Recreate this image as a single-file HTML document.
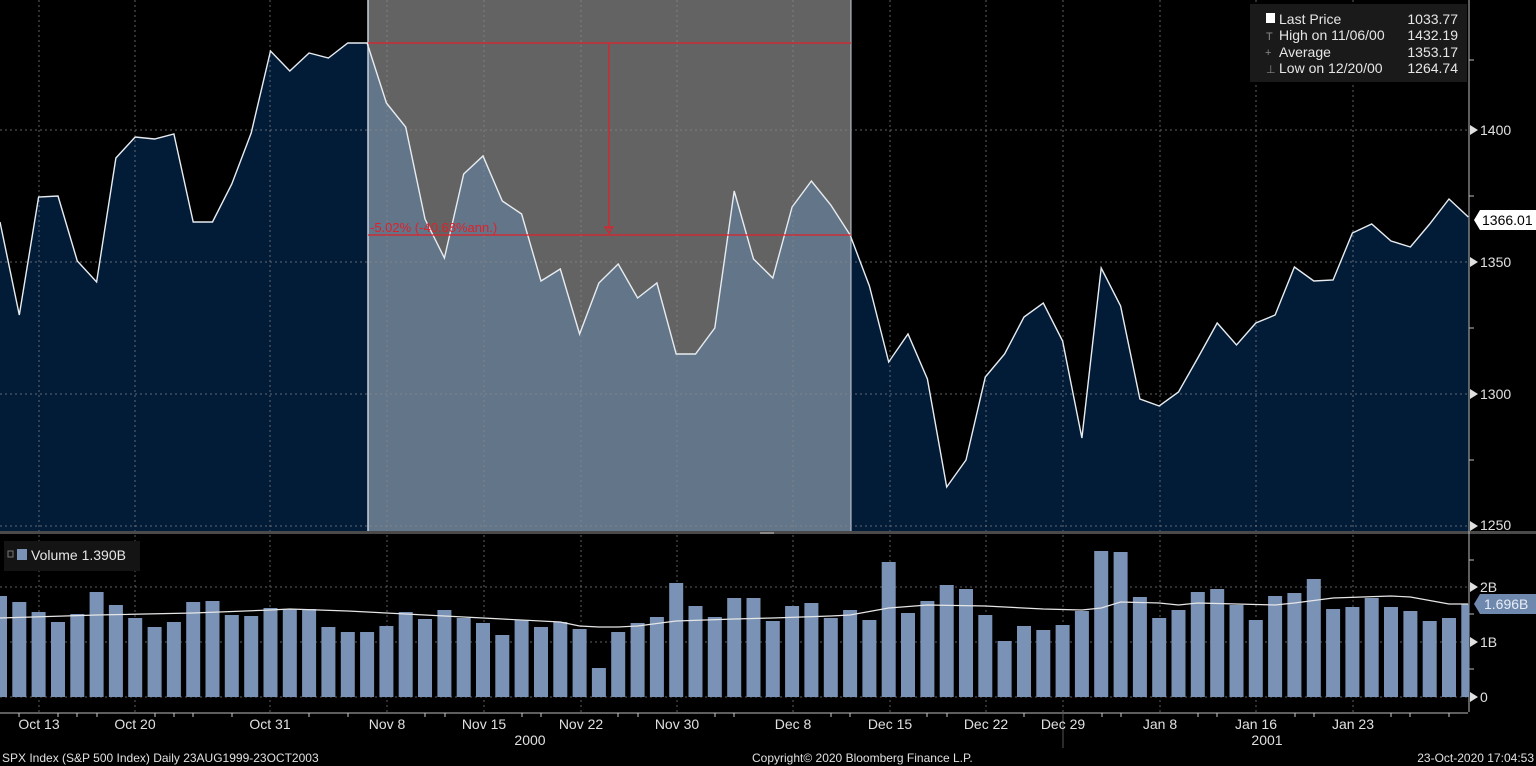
<!DOCTYPE html>
<html><head><meta charset="utf-8"><style>
html,body{margin:0;padding:0;background:#000;}
svg{display:block;}
text{font-family:"Liberation Sans Narrow","Liberation Sans",sans-serif;}
</style></head><body>
<svg width="1536" height="766" viewBox="0 0 1536 766" xmlns="http://www.w3.org/2000/svg">
<defs>
<clipPath id="sel"><rect x="368" y="0" width="483" height="531"/></clipPath>
</defs>
<rect width="1536" height="766" fill="#000"/>
<!-- selection gray -->
<rect x="368" y="0" width="483" height="531" fill="#636363"/>
<!-- area -->
<polygon id="ar" fill="#021b37" points="0,531 0,222 19.3,315 38.6,197 58,196 77.3,261 96.6,282 115.9,158 135.2,137 154.6,139 173.9,134 193.2,222 212.5,222 231.8,184 251.2,133 270.5,51 289.8,71 309.1,53 328.4,58 347.8,43 367.1,43 386.4,103 405.7,127 425,219 444.4,258 463.7,174 483,156 502.3,201 521.6,214 541,281 560.3,269 579.6,334 598.9,283 618.2,264 637.6,298 656.9,283 676.2,354 695.5,354 714.8,328 734.2,191 753.5,259 772.8,278 792.1,207 811.4,181 830.8,205 850.1,235 869.4,286 888.7,362 908,334 927.4,379 946.7,487 966,460 985.3,377 1004.6,354 1024,317 1043.3,303 1062.6,341 1081.9,438 1101.2,268 1120.6,306 1139.9,399 1159.2,406 1178.5,392 1197.8,358 1217.2,323 1236.5,345 1255.8,323 1275.1,315 1294.4,267 1313.8,281 1333.1,280 1352.4,233 1371.7,224 1391,241 1410.4,247 1429.7,224 1449,199 1468.3,217 1468.3,531"/>
<g clip-path="url(#sel)"><use href="#ar" fill="#637589" style="fill:#637589"/></g>
<polygon clip-path="url(#sel)" fill="#637589" points="0,531 0,222 19.3,315 38.6,197 58,196 77.3,261 96.6,282 115.9,158 135.2,137 154.6,139 173.9,134 193.2,222 212.5,222 231.8,184 251.2,133 270.5,51 289.8,71 309.1,53 328.4,58 347.8,43 367.1,43 386.4,103 405.7,127 425,219 444.4,258 463.7,174 483,156 502.3,201 521.6,214 541,281 560.3,269 579.6,334 598.9,283 618.2,264 637.6,298 656.9,283 676.2,354 695.5,354 714.8,328 734.2,191 753.5,259 772.8,278 792.1,207 811.4,181 830.8,205 850.1,235 869.4,286 888.7,362 888.7,531"/>
<line x1="368" y1="0" x2="368" y2="531" stroke="#c8d0dc" stroke-width="1.5"/>
<line x1="851" y1="0" x2="851" y2="531" stroke="#c8d0dc" stroke-width="1"/>
<!-- grid -->
<g stroke="#8a8a8a" stroke-width="1" stroke-dasharray="2,3" opacity="0.7">
<line x1="0" y1="130" x2="1468" y2="130"/><line x1="0" y1="262" x2="1468" y2="262"/><line x1="0" y1="394" x2="1468" y2="394"/><line x1="0" y1="526" x2="1468" y2="526"/>
<line x1="0" y1="587" x2="1468" y2="587"/><line x1="0" y1="642" x2="1468" y2="642"/><line x1="0" y1="697" x2="1468" y2="697"/>
<line x1="39" y1="0" x2="39" y2="712"/><line x1="135" y1="0" x2="135" y2="712"/><line x1="270" y1="0" x2="270" y2="712"/><line x1="387" y1="0" x2="387" y2="712"/><line x1="484" y1="0" x2="484" y2="712"/><line x1="581" y1="0" x2="581" y2="712"/><line x1="677" y1="0" x2="677" y2="712"/><line x1="793" y1="0" x2="793" y2="712"/><line x1="890" y1="0" x2="890" y2="712"/><line x1="986" y1="0" x2="986" y2="712"/><line x1="1063" y1="0" x2="1063" y2="712"/><line x1="1160" y1="0" x2="1160" y2="712"/><line x1="1256" y1="0" x2="1256" y2="712"/><line x1="1353" y1="0" x2="1353" y2="712"/>
</g>
<!-- price line -->
<polyline fill="none" stroke="#e8ecf0" stroke-width="1.4" points="0,222 19.3,315 38.6,197 58,196 77.3,261 96.6,282 115.9,158 135.2,137 154.6,139 173.9,134 193.2,222 212.5,222 231.8,184 251.2,133 270.5,51 289.8,71 309.1,53 328.4,58 347.8,43 367.1,43 386.4,103 405.7,127 425,219 444.4,258 463.7,174 483,156 502.3,201 521.6,214 541,281 560.3,269 579.6,334 598.9,283 618.2,264 637.6,298 656.9,283 676.2,354 695.5,354 714.8,328 734.2,191 753.5,259 772.8,278 792.1,207 811.4,181 830.8,205 850.1,235 869.4,286 888.7,362 908,334 927.4,379 946.7,487 966,460 985.3,377 1004.6,354 1024,317 1043.3,303 1062.6,341 1081.9,438 1101.2,268 1120.6,306 1139.9,399 1159.2,406 1178.5,392 1197.8,358 1217.2,323 1236.5,345 1255.8,323 1275.1,315 1294.4,267 1313.8,281 1333.1,280 1352.4,233 1371.7,224 1391,241 1410.4,247 1429.7,224 1449,199 1468.3,217"/>
<!-- red measure -->
<g stroke="#e0202a" stroke-width="1.2" fill="none">
<line x1="368" y1="43" x2="851" y2="43"/><line x1="368" y1="235" x2="851" y2="235"/>
<line x1="609" y1="43" x2="609" y2="229"/>
<path d="M605,227 L613,227 L609,233 Z"/>
</g>
<text x="370" y="232" font-size="13" fill="#e0202a">-5.02% (-40.68%ann.)</text>
<!-- panel divider -->
<rect x="0" y="531" width="1536" height="3" fill="#4a4a4a"/>
<rect x="760" y="532" width="14" height="2" fill="#888"/>
<!-- right axis -->
<line x1="1469" y1="0" x2="1469" y2="712" stroke="#bbb" stroke-width="1"/>
<line x1="1468" y1="713" x2="0" y2="713" stroke="#bbb" stroke-width="1"/>
<g fill="#e0e0e0" font-size="14">
<path d="M1470,125 L1478,130 L1470,135 Z"/><text x="1480" y="135">1400</text>
<path d="M1470,257 L1478,262 L1470,267 Z"/><text x="1480" y="267">1350</text>
<path d="M1470,389 L1478,394 L1470,399 Z"/><text x="1480" y="399">1300</text>
<path d="M1470,521 L1478,526 L1470,531 Z"/><text x="1480" y="530">1250</text>
<path d="M1470,582 L1478,587 L1470,592 Z"/><text x="1480" y="592">2B</text>
<path d="M1470,637 L1478,642 L1470,647 Z"/><text x="1480" y="647">1B</text>
<path d="M1470,692 L1478,697 L1470,702 Z"/><text x="1480" y="702">0</text>
</g>
<g stroke="#bbb"><line x1="1469" y1="60" x2="1474" y2="60"/><line x1="1469" y1="196" x2="1474" y2="196"/><line x1="1469" y1="328" x2="1474" y2="328"/><line x1="1469" y1="460" x2="1474" y2="460"/><line x1="1469" y1="560" x2="1474" y2="560"/><line x1="1469" y1="614" x2="1474" y2="614"/><line x1="1469" y1="669" x2="1474" y2="669"/></g>
<!-- last price label -->
<path d="M1474,220 L1480,210 L1536,210 L1536,230 L1480,230 Z" fill="#fff"/>
<text x="1482" y="225" font-size="14" fill="#000">1366.01</text>
<path d="M1474,604 L1480,594 L1536,594 L1536,614 L1480,614 Z" fill="#6f88ad"/>
<text x="1484" y="609" font-size="14" fill="#e8eef6">1.696B</text>
<!-- legend -->
<rect x="1250" y="4" width="217" height="78" fill="#1a1a1a"/>
<g font-size="14" fill="#e6e6e6">
<rect x="1266" y="13" width="9" height="10" fill="#fff"/>
<text x="1279" y="24">Last Price</text><text x="1458" y="24" text-anchor="end">1033.77</text>
<text x="1266" y="40" fill="#888" font-size="11">T</text><text x="1279" y="40">High on 11/06/00</text><text x="1458" y="40" text-anchor="end">1432.19</text>
<text x="1265" y="56" fill="#888" font-size="11">+</text><text x="1279" y="57">Average</text><text x="1458" y="57" text-anchor="end">1353.17</text>
<text x="1266" y="73" fill="#888" font-size="11">⊥</text><text x="1279" y="73">Low on 12/20/00</text><text x="1458" y="73" text-anchor="end">1264.74</text>
</g>
<!-- volume bars -->
<g fill="#7a92b6">
<rect x="-7" y="596" width="14" height="101"/><rect x="12.3" y="602" width="14" height="95"/><rect x="31.6" y="612" width="14" height="85"/><rect x="51" y="622" width="14" height="75"/><rect x="70.3" y="614" width="14" height="83"/><rect x="89.6" y="592" width="14" height="105"/><rect x="108.9" y="605" width="14" height="92"/><rect x="128.2" y="618" width="14" height="79"/><rect x="147.6" y="627" width="14" height="70"/><rect x="166.9" y="622" width="14" height="75"/><rect x="186.2" y="602" width="14" height="95"/><rect x="205.5" y="601" width="14" height="96"/><rect x="224.8" y="615" width="14" height="82"/><rect x="244.2" y="616" width="14" height="81"/><rect x="263.5" y="608" width="14" height="89"/><rect x="282.8" y="609" width="14" height="88"/><rect x="302.1" y="609" width="14" height="88"/><rect x="321.4" y="627" width="14" height="70"/><rect x="340.8" y="632" width="14" height="65"/><rect x="360.1" y="632" width="14" height="65"/><rect x="379.4" y="626" width="14" height="71"/><rect x="398.7" y="612" width="14" height="85"/><rect x="418" y="619" width="14" height="78"/><rect x="437.4" y="610" width="14" height="87"/><rect x="456.7" y="618" width="14" height="79"/><rect x="476" y="623" width="14" height="74"/><rect x="495.3" y="635" width="14" height="62"/><rect x="514.6" y="620" width="14" height="77"/><rect x="534" y="627" width="14" height="70"/><rect x="553.3" y="622" width="14" height="75"/><rect x="572.6" y="629" width="14" height="68"/><rect x="591.9" y="668" width="14" height="29"/><rect x="611.2" y="632" width="14" height="65"/><rect x="630.6" y="623" width="14" height="74"/><rect x="649.9" y="617" width="14" height="80"/><rect x="669.2" y="583" width="14" height="114"/><rect x="688.5" y="606" width="14" height="91"/><rect x="707.8" y="617" width="14" height="80"/><rect x="727.2" y="598" width="14" height="99"/><rect x="746.5" y="598" width="14" height="99"/><rect x="765.8" y="621" width="14" height="76"/><rect x="785.1" y="606" width="14" height="91"/><rect x="804.4" y="603" width="14" height="94"/><rect x="823.8" y="618" width="14" height="79"/><rect x="843.1" y="610" width="14" height="87"/><rect x="862.4" y="620" width="14" height="77"/><rect x="881.7" y="562" width="14" height="135"/><rect x="901" y="613" width="14" height="84"/><rect x="920.4" y="601" width="14" height="96"/><rect x="939.7" y="585" width="14" height="112"/><rect x="959" y="589" width="14" height="108"/><rect x="978.3" y="615" width="14" height="82"/><rect x="997.6" y="641" width="14" height="56"/><rect x="1017" y="626" width="14" height="71"/><rect x="1036.3" y="630" width="14" height="67"/><rect x="1055.6" y="625" width="14" height="72"/><rect x="1074.9" y="611" width="14" height="86"/><rect x="1094.2" y="551" width="14" height="146"/><rect x="1113.6" y="552" width="14" height="145"/><rect x="1132.9" y="597" width="14" height="100"/><rect x="1152.2" y="618" width="14" height="79"/><rect x="1171.5" y="610" width="14" height="87"/><rect x="1190.8" y="592" width="14" height="105"/><rect x="1210.2" y="589" width="14" height="108"/><rect x="1229.5" y="605" width="14" height="92"/><rect x="1248.8" y="620" width="14" height="77"/><rect x="1268.1" y="596" width="14" height="101"/><rect x="1287.4" y="593" width="14" height="104"/><rect x="1306.8" y="579" width="14" height="118"/><rect x="1326.1" y="609" width="14" height="88"/><rect x="1345.4" y="607" width="14" height="90"/><rect x="1364.7" y="598" width="14" height="99"/><rect x="1384" y="607" width="14" height="90"/><rect x="1403.4" y="611" width="14" height="86"/><rect x="1422.7" y="621" width="14" height="76"/><rect x="1442" y="618" width="14" height="79"/><rect x="1461.3" y="604" width="8" height="93"/>
</g>
<polyline fill="none" stroke="#e6e6e6" stroke-width="1.2" points="0,618 96.6,615 193.2,613 270.5,610 289.8,609 347.8,611 386.4,613 444.4,616 502.3,619 560.3,622 579.6,626 598.9,627 618.2,627 637.6,626 676.2,621 734.2,619 772.8,618 830.8,616 850.1,615 888.7,608 927.4,605 985.3,606 1043.3,609 1081.9,610 1101.2,608 1120.6,602 1159.2,603 1178.5,605 1197.8,603 1236.5,604 1275.1,605 1294.4,603 1333.1,598 1391,596 1410.4,597 1449,604 1468,604"/>
<!-- volume legend -->
<rect x="4" y="541" width="136" height="30" fill="#141414"/>
<rect x="8" y="551" width="5" height="6" fill="none" stroke="#777" stroke-width="1"/>
<rect x="17" y="549" width="10" height="11" fill="#7a92b6"/>
<text x="31" y="560" font-size="14" fill="#e6e6e6">Volume 1.390B</text>
<!-- x axis ticks -->
<g stroke="#ccc" stroke-width="1">
<line x1="19" y1="713" x2="19" y2="717"/><line x1="58" y1="713" x2="58" y2="717"/><line x1="77" y1="713" x2="77" y2="717"/><line x1="97" y1="713" x2="97" y2="717"/><line x1="155" y1="713" x2="155" y2="717"/><line x1="174" y1="713" x2="174" y2="717"/><line x1="193" y1="713" x2="193" y2="717"/><line x1="232" y1="713" x2="232" y2="717"/><line x1="309" y1="713" x2="309" y2="717"/><line x1="348" y1="713" x2="348" y2="717"/><line x1="425" y1="713" x2="425" y2="717"/><line x1="445" y1="713" x2="445" y2="717"/><line x1="522" y1="713" x2="522" y2="717"/><line x1="541" y1="713" x2="541" y2="717"/><line x1="618" y1="713" x2="618" y2="717"/><line x1="638" y1="713" x2="638" y2="717"/><line x1="715" y1="713" x2="715" y2="717"/><line x1="734" y1="713" x2="734" y2="717"/><line x1="831" y1="713" x2="831" y2="717"/><line x1="850" y1="713" x2="850" y2="717"/><line x1="927" y1="713" x2="927" y2="717"/><line x1="947" y1="713" x2="947" y2="717"/><line x1="1024" y1="713" x2="1024" y2="717"/><line x1="1102" y1="713" x2="1102" y2="717"/><line x1="1121" y1="713" x2="1121" y2="717"/><line x1="1198" y1="713" x2="1198" y2="717"/><line x1="1217" y1="713" x2="1217" y2="717"/><line x1="1295" y1="713" x2="1295" y2="717"/><line x1="1314" y1="713" x2="1314" y2="717"/><line x1="1391" y1="713" x2="1391" y2="717"/><line x1="1410" y1="713" x2="1410" y2="717"/><line x1="1449" y1="713" x2="1449" y2="717"/>
<line x1="1063" y1="713" x2="1063" y2="748" stroke="#555"/>
</g>
<g font-size="14" fill="#e0e0e0" text-anchor="middle">
<text x="39" y="729">Oct 13</text><text x="135" y="729">Oct 20</text><text x="270" y="729">Oct 31</text><text x="387" y="729">Nov 8</text><text x="484" y="729">Nov 15</text><text x="581" y="729">Nov 22</text><text x="677" y="729">Nov 30</text><text x="793" y="729">Dec 8</text><text x="890" y="729">Dec 15</text><text x="986" y="729">Dec 22</text><text x="1063" y="729">Dec 29</text><text x="1160" y="729">Jan 8</text><text x="1256" y="729">Jan 16</text><text x="1353" y="729">Jan 23</text>
<text x="530" y="745">2000</text><text x="1267" y="745">2001</text>
</g>
<g font-size="12" fill="#e0e0e0">
<text x="2" y="762">SPX Index (S&amp;P 500 Index)  Daily 23AUG1999-23OCT2003</text>
<text x="752" y="762">Copyright© 2020 Bloomberg Finance L.P.</text>
<text x="1534" y="762" text-anchor="end">23-Oct-2020 17:04:53</text>
</g>
</svg>
</body></html>
